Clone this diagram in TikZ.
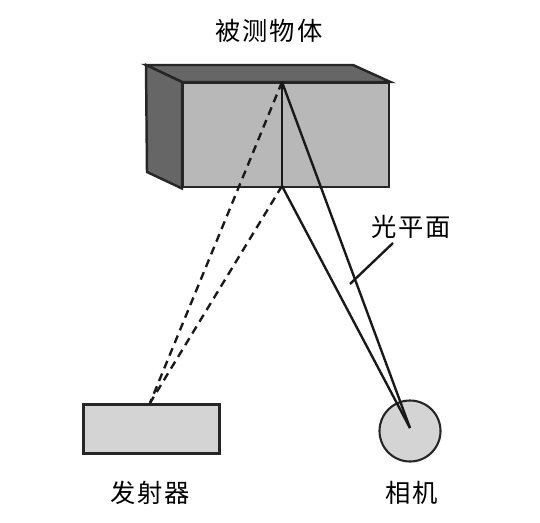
\documentclass[tikz,border=0pt]{standalone}
\usepackage{fontspec}
\newfontfamily\cjk[LetterSpace=8]{Noto Sans CJK SC}
\usetikzlibrary{positioning}

\begin{document}
\begin{tikzpicture}[
        face/.style={draw=black!85, line width=1.4pt, line join=miter},
        label/.style={font=\cjk\fontsize{14.4}{14.4}\selectfont, inner sep=0pt},
        ray/.style={black!90, line width=1.35pt},
        dashray/.style={ray, dash pattern=on 4.6pt off 3.2pt}
    ]
        \useasboundingbox (0,0) rectangle (10.8,10.44);

        % the measured object
        \coordinate (backtl) at (2.92,9.14);
        \coordinate (backtr) at (7.06,9.14);
        \coordinate (backbl) at (2.94,7.0);
        \node[face, fill=black!28, minimum width=4.12cm, minimum height=2.08cm, inner sep=0pt, anchor=north west] (front) at (3.64,8.8) {};
        \draw[face, fill=black!60] (backtl) -- (backtr) -- (front.north east) -- (front.north west) -- cycle;
        \draw[face, fill=black!60] (backtl) -- (front.north west) -- (front.south west) -- (backbl) -- cycle;
        \coordinate (top) at (5.64,8.8);
        \coordinate (bottom) at (5.64,6.72);

        \node[face, fill=black!17, line width=1.6pt, minimum width=2.72cm, minimum height=0.98cm, inner sep=0pt, anchor=north west] (emitter) at (1.64,2.38) {};
        \node[circle, face, fill=black!17, line width=1.2pt, minimum size=1.22cm, inner sep=0pt] (camera) at (8.2,1.82) {};
        \coordinate (lens) at (8.2,1.88);
        \coordinate (source) at (3.0,2.38);

        \draw[ray] (top) -- (bottom);
        \draw[ray] (top) -- (lens);
        \draw[ray] (bottom) -- (lens);
        \draw[dashray] (top) -- (source);
        \draw[dashray] (bottom) -- (source);

        % labels
        \node[label] (object) at (5.38,9.82) {被测物体};
        \node[label] (plane) at (8.22,5.9) {光平面};
        \node[label] (emittertext) at (3.0,0.58) {发射器};
        \node[label] (cameratext) at (8.24,0.58) {相机};
        \coordinate (planeray) at (7.0,4.76);
        \draw[ray] (7.86,5.58) -- (planeray);
    \end{tikzpicture}
\end{document}
